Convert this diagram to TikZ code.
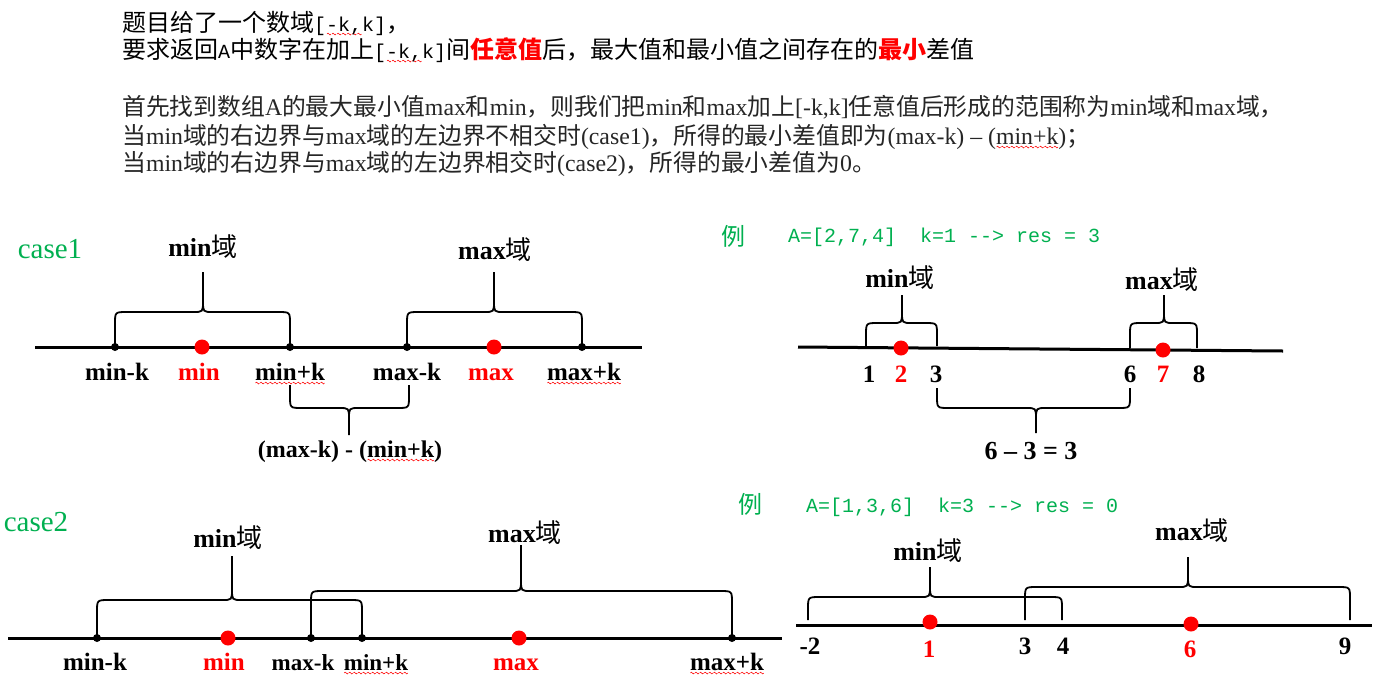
\documentclass[tikz,border=0pt]{standalone}
\usepackage{fontspec}
\setmainfont{Liberation Serif}
\newfontfamily\cjk{Noto Sans CJK SC}
\newfontfamily\monof{Liberation Mono}
\definecolor{grn}{RGB}{0,176,80}
\newsavebox\wavebox
\newsavebox\wtext
\AtBeginDocument{\sbox\wavebox{\pgfpicture
 \pgfsetlinewidth{0.55pt}\pgfsetstrokecolor{red}
 \pgfpathmoveto{\pgfpoint{0pt}{0pt}}
 \pgfpathcurveto{\pgfpoint{0.7pt}{1.2pt}}{\pgfpoint{1.3pt}{1.2pt}}{\pgfpoint{2pt}{0pt}}
 \pgfpathcurveto{\pgfpoint{2.7pt}{-1.2pt}}{\pgfpoint{3.3pt}{-1.2pt}}{\pgfpoint{4pt}{0pt}}
 \pgfusepath{stroke}
 \endpgfpicture}}
\newcommand\redwave[1]{\sbox\wtext{#1}\rlap{\raisebox{-4.5pt}[0pt][0pt]{\hbox to \wd\wtext{\xleaders\copy\wavebox\hfill}}}\usebox\wtext}
\newcommand\hw[1]{{\monof\fontsize{20}{24}\selectfont #1}}
\newcommand\mybrace[7]{%
 \draw[brc] (#1,#3) -- (#1,{#4+#7*12}) .. controls (#1,#4) .. ({#1+12},#4) -- ({#5-10},#4) .. controls (#5,#4) .. (#5,{#4-#7*11}) -- (#5,#6);
 \draw[brc] (#5,{#4-#7*11}) .. controls (#5,#4) .. ({#5+10},#4) -- ({#2-12},#4) .. controls (#2,#4) .. (#2,{#4+#7*12}) -- (#2,#3);}
\begin{document}
\begin{tikzpicture}[x=1pt,y=-1pt,
 axis/.style={line width=3pt},
 brc/.style={line width=1.8pt,line join=round},
 bdot/.style={circle,fill=black,inner sep=0pt,minimum size=8pt},
 rdot/.style={circle,fill=red,inner sep=0pt,minimum size=15pt},
 lab/.style={font=\fontsize{25}{28}\selectfont\bfseries,anchor=base,inner sep=0pt},
 slab/.style={font=\fontsize{23}{26}\selectfont\bfseries,anchor=base,inner sep=0pt},
 flab/.style={font=\fontsize{24}{26}\selectfont\bfseries,anchor=base,inner sep=0pt},
 rlab/.style={lab,text=red},
 dom/.style={font=\fontsize{26}{28}\selectfont,anchor=base,inner sep=0pt},
 title/.style={font=\cjk\fontsize{24}{26}\selectfont,anchor=base west,inner sep=0pt},
 para/.style={font=\fontsize{23.8}{28}\selectfont,anchor=base west,inner sep=0pt,text=black!85},
 casel/.style={font=\fontsize{29}{32}\selectfont,text=grn,anchor=base,inner sep=0pt},
 li/.style={font=\cjk\fontsize{24}{28}\selectfont,text=grn,anchor=base,inner sep=0pt},
 ex/.style={font=\monof\fontsize{20}{24}\selectfont,text=grn,anchor=west,inner sep=0pt}]
\fill[white] (0,0) rectangle (1379,689);
\useasboundingbox (0,0) rectangle (1379,689);

% title and explanation
\node[title] (t1) at (122,31) {题目给了一个数域\hw{[\redwave{-k,}k]}，};
\node[title] (t2) at (122,58) {要求返回\hw{A}中数字在加上\hw{[\redwave{-k,}k]}间{\color{red}\bfseries 任意值}后，最大值和最小值之间存在的{\color{red}\bfseries 最小}差值};
\node[para] (p1) at (122,115) {{\cjk 首先找到数组}A{\cjk 的最大最小值}max{\cjk 和}min{\cjk ，则我们把}min{\cjk 和}max{\cjk 加上}[-k,k]{\cjk 任意值后形成的范围称为}min{\cjk 域和}max{\cjk 域，}};
\node[para] (p2) at (122,144) {{\cjk 当}min{\cjk 域的右边界与}max{\cjk 域的左边界不相交时}(case1){\cjk ，所得的最小差值即为}(max-k) – (\redwave{min+k}){\cjk ；}};
\node[para] (p3) at (122,171) {{\cjk 当}min{\cjk 域的右边界与}max{\cjk 域的左边界相交时}(case2){\cjk ，所得的最小差值为}0{\cjk 。}};

% ---------- case1 ----------
\node[casel] (c1) at (50,258) {case1};
\draw[axis] (35,347) -- (642,347);
\node[bdot] (a1) at (115,347) {};
\node[bdot] (a2) at (290,347) {};
\node[bdot] (a3) at (407,347) {};
\node[bdot] (a4) at (582,347) {};
\node[rdot] (am) at (202,347) {};
\node[rdot] (aM) at (494,347) {};
\mybrace{115}{290}{347}{312}{203}{272}{1}
\mybrace{407}{582}{347}{312}{494}{272}{1}
\mybrace{290}{409}{385}{408}{349}{435}{-1}
\node[dom] (ad1) at (203,256) {\textbf{min}{\cjk 域}};
\node[dom] (ad2) at (495,259) {\textbf{max}{\cjk 域}};
\node[lab] (al1) at (117,380) {min-k};
\node[rlab] (al2) at (199,380) {min};
\node[lab] (al3) at (290,380) {\redwave{min+k}};
\node[lab] (al4) at (407,380) {max-k};
\node[rlab] (al5) at (491,380) {max};
\node[lab] (al6) at (584,380) {\redwave{max+k}};
\node[flab] (af) at (350,457) {(max-k) - (\redwave{min+k})};

% ---------- example 1 ----------
\node[li] (e1) at (733,245) {例};
\node[ex] (e1t) at (788,237) {A=[2,7,4]\ \ k=1 -{}-> res = 3};
\draw[axis] (798,347) -- (1283,351);
\node[rdot] (bm) at (901,348) {};
\node[rdot] (bM) at (1163,350) {};
\mybrace{866}{937}{346}{323}{902}{295}{1}
\mybrace{1130}{1197}{348}{323}{1164}{295}{1}
\mybrace{937}{1130}{388}{408}{1036}{433}{-1}
\node[dom] (bd1) at (900,287) {\textbf{min}{\cjk 域}};
\node[dom] (bd2) at (1162,289) {\textbf{max}{\cjk 域}};
\node[lab] (bl1) at (869,382) {1};
\node[rlab] (bl2) at (901,382) {2};
\node[lab] (bl3) at (936,382) {3};
\node[lab] (bl4) at (1130,382) {6};
\node[rlab] (bl5) at (1163,382) {7};
\node[lab] (bl6) at (1199,382) {8};
\node[lab,font=\fontsize{26}{28}\selectfont\bfseries] (bf) at (1031,459) {6 – 3 = 3};

% ---------- case2 ----------
\node[casel] (c2) at (36,531) {case2};
\draw[axis] (8,638) -- (782,638);
\node[bdot] (d1) at (97,638) {};
\node[bdot] (d2) at (311,638) {};
\node[bdot] (d3) at (362,638) {};
\node[bdot] (d4) at (732,638) {};
\node[rdot] (dm) at (228,638) {};
\node[rdot] (dM) at (519,638) {};
\mybrace{97}{362}{638}{600}{232}{556}{1}
\mybrace{311}{732}{638}{591}{521}{545}{1}
\node[dom] (dd1) at (228,547) {\textbf{min}{\cjk 域}};
\node[dom] (dd2) at (525,542) {\textbf{max}{\cjk 域}};
\node[lab] (dl1) at (95,670) {min-k};
\node[rlab] (dl2) at (224,670) {min};
\node[slab] (dl3) at (303,670) {max-k};
\node[slab] (dl4) at (376,670) {\redwave{min+k}};
\node[rlab] (dl5) at (516,670) {max};
\node[lab] (dl6) at (727,670) {\redwave{max+k}};

% ---------- example 2 ----------
\node[li] (e2) at (750,513) {例};
\node[ex] (e2t) at (806,507) {A=[1,3,6]\ \ k=3 -{}-> res = 0};
\draw[axis] (796,625) -- (1372,625);
\node[rdot] (fm) at (930,622) {};
\node[rdot] (fM) at (1191,624) {};
\mybrace{808}{1062}{620}{597}{930}{567}{1}
\mybrace{1025}{1350}{620}{587}{1188}{557}{1}
\node[dom] (fd1) at (928,560) {\textbf{min}{\cjk 域}};
\node[dom] (fd2) at (1192,540) {\textbf{max}{\cjk 域}};
\node[lab] (fl1) at (810,654) {-2};
\node[rlab] (fl2) at (929,657) {1};
\node[lab] (fl3) at (1025,654) {3};
\node[lab] (fl4) at (1063,654) {4};
\node[rlab] (fl5) at (1190,657) {6};
\node[lab] (fl6) at (1345,654) {9};
\end{tikzpicture}
\end{document}
